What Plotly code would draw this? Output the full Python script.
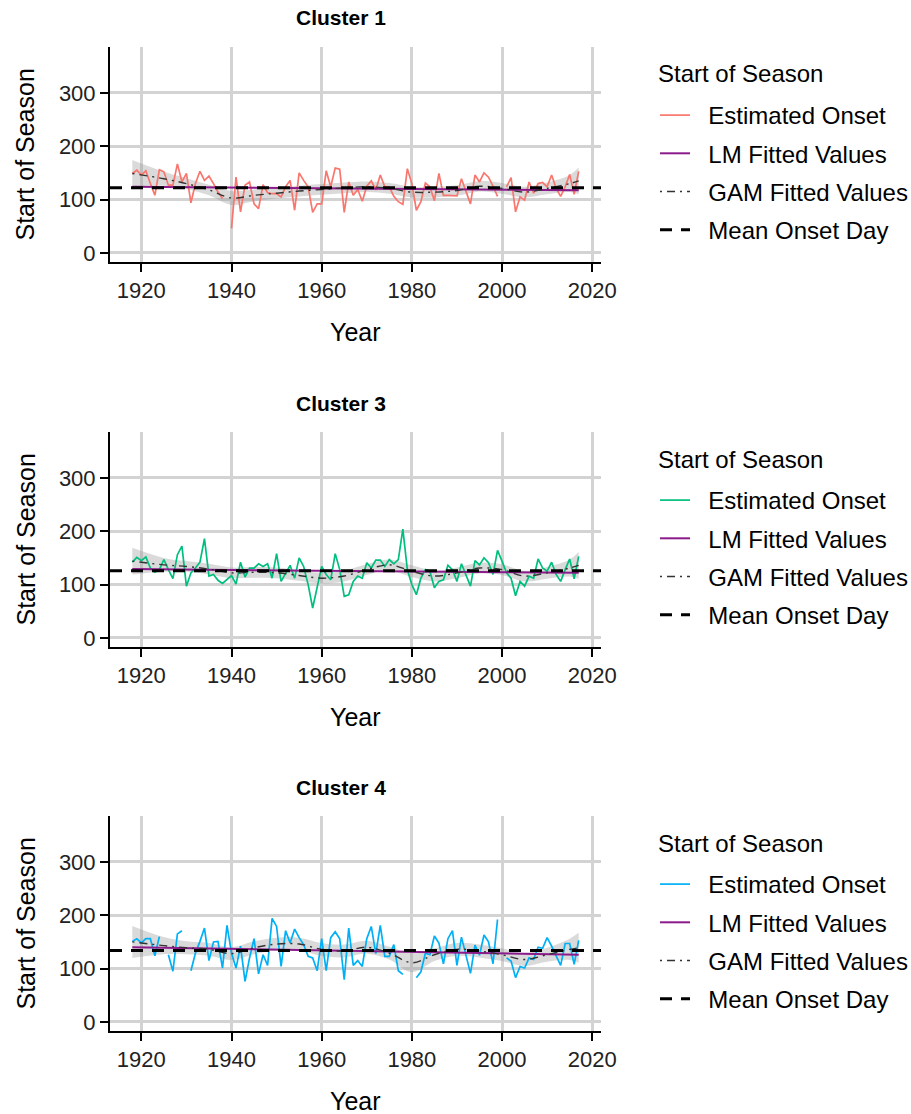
import plotly.graph_objects as go
import numpy as np

nan = float("nan")
years = list(range(1918, 2018))

onset_c1 = [149,155,146,154,130,108,156,152,127,127,167,133,149,94,130,153,136,144,130,114,102,nan,
            46,142,77,127,133,92,83,128,113,111,111,105,124,136,80,150,136,124,76,92,92,154,124,159,157,76,
            133,108,119,97,125,135,118,146,124,124,106,96,91,158,130,80,96,131,124,98,149,108,108,107,107,139,
            114,92,146,133,150,142,125,106,nan,124,141,77,105,99,133,112,130,132,124,146,121,106,124,147,110,153]
onset_c3 = [142,151,145,152,131,123,128,147,128,111,156,172,97,122,131,142,186,116,119,108,102,109,117,
            101,142,114,131,131,139,134,139,112,158,106,122,136,112,150,134,100,56,97,134,119,109,158,128,78,
            81,106,116,112,141,131,146,146,134,147,139,147,204,128,100,81,112,128,125,94,106,109,136,128,106,
            139,119,97,145,137,150,141,119,164,144,122,112,79,106,97,116,112,148,131,125,142,119,106,128,148,111,153]
onset_c4 = [151,156,148,156,156,124,160,nan,126,95,165,171,nan,96,129,151,176,115,150,151,101,181,129,
            101,142,76,120,156,90,126,106,194,179,104,171,148,174,158,145,123,120,96,156,96,158,169,156,79,
            176,106,115,104,156,179,128,181,123,123,145,96,89,nan,nan,83,94,129,126,161,148,109,156,171,106,
            159,126,91,144,125,163,150,109,192,nan,120,114,83,104,101,120,117,140,138,158,142,123,106,147,147,108,153]

gam_years = [1918,1925,1930,1935,1940,1945,1950,1955,1960,1965,1970,1975,1980,1985,1990,1995,2000,2005,2010,2015,2017]
gam_c1 = [149,139,130,118,103,108,112,116,119,122,124,121,114,114,117,125,121,114,121,130,135]
se_c1 = [25,13,10,10,13,11,10,10,10,10,10,10,10,10,10,10,10,10,11,16,25]
gam_c3 = [144,137,134,129,122,123,122,117,112,116,128,137,125,116,122,131,128,116,122,131,136]
se_c3 = [25,13,10,10,10,10,10,10,10,10,10,10,11,10,10,10,10,10,11,16,25]
gam_c4 = [150,143,139,136,128,139,146,146,136,133,140,129,111,126,136,133,126,117,126,136,139]
se_c4 = [30,16,12,12,12,12,12,12,12,12,12,12,18,12,12,12,12,12,13,20,28]

lm_c1 = [124, 117.5]
lm_c3 = [129, 122]
lm_c4 = [140, 126]
mean_c1, mean_c3, mean_c4 = 122, 126, 134

titles = ["Cluster 1", "Cluster 3", "Cluster 4"]
colors = ["#F8766D", "#00BF7D", "#00B0F6"]
x_ticks = [1920, 1940, 1960, 1980, 2000, 2020]
y_ticks = [0, 100, 200, 300]
legend_title = "Start of Season"
names = ["Estimated Onset", "LM Fitted Values", "GAM Fitted Values", "Mean Onset Day"]

W, H = 911, 1114
FONT = "Liberation Sans, Arial, sans-serif"
PAD = "\u00a0\u00a0"

def px_x(p):
    return p / W

def px_y(p):
    return 1 - p / H

panels = [
    (onset_c1, gam_c1, se_c1, lm_c1, mean_c1),
    (onset_c3, gam_c3, se_c3, lm_c3, mean_c3),
    (onset_c4, gam_c4, se_c4, lm_c4, mean_c4),
]
tops = [47, 432, 816]
ph = 215
xl, xr = 110, 601

yrange_span = max(years) - min(years)
xr0 = min(years) - 0.05 * yrange_span
xr1 = max(years) + 0.05 * yrange_span

fig = go.Figure()
annotations = []
for i, (onset, gam, se, lm, mean) in enumerate(panels):
    k = "" if i == 0 else str(i + 1)
    xa, ya = "x" + k, "y" + k
    lg = "legend" + k
    gam = np.array(gam, float)
    se = np.array(se, float)
    # ribbon
    fig.add_trace(go.Scatter(x=gam_years, y=gam + se, mode="lines", line=dict(width=0, shape="spline"),
                             xaxis=xa, yaxis=ya, showlegend=False, hoverinfo="skip"))
    fig.add_trace(go.Scatter(x=gam_years, y=gam - se, mode="lines", line=dict(width=0, shape="spline"),
                             fill="tonexty", fillcolor="rgba(150,150,150,0.35)",
                             xaxis=xa, yaxis=ya, showlegend=False, hoverinfo="skip"))
    fig.add_trace(go.Scatter(x=years, y=onset, mode="lines", name=PAD + names[0], legendgroup="a",
                             line=dict(color=colors[i], width=1.7), xaxis=xa, yaxis=ya, legend=lg))
    fig.add_trace(go.Scatter(x=[years[0], years[-1]], y=lm, mode="lines", name=PAD + names[1],
                             legendgroup="b",
                             line=dict(color="#8B1A8B", width=2), xaxis=xa, yaxis=ya, legend=lg))
    fig.add_trace(go.Scatter(x=gam_years, y=gam, mode="lines", name=PAD + names[2], legendgroup="c",
                             line=dict(color="#333333", width=1.4, dash="2px,5px,8px,5px", shape="spline"),
                             xaxis=xa, yaxis=ya, legend=lg))
    fig.add_trace(go.Scatter(x=[xr0, xr1], y=[mean, mean], mode="lines", name=PAD + names[3],
                             legendgroup="d",
                             line=dict(color="black", width=3, dash="12px,9px"),
                             xaxis=xa, yaxis=ya, legend=lg))

    top = tops[i]
    bot = top + ph
    axis_common = dict(showline=True, linecolor="black", linewidth=2, ticks="outside", ticklen=8,
                       tickwidth=2, tickcolor="black", showgrid=True, gridcolor="#d3d3d3", gridwidth=3,
                       zeroline=False, tickfont=dict(family=FONT, size=22, color="#222222"))
    fig.update_layout(**{
        "xaxis" + k: dict(domain=[px_x(xl), px_x(xr)], range=[xr0, xr1], anchor=ya,
                          tickvals=x_ticks, **axis_common),
        "yaxis" + k: dict(domain=[px_y(bot), px_y(top)], range=[-17, 386], anchor=xa,
                          tickvals=y_ticks, **axis_common),
        lg: dict(x=px_x(655), y=px_y(top + 46), xanchor="left", yanchor="top",
                 font=dict(family=FONT, size=24, color="black"), bgcolor="rgba(0,0,0,0)",
                 itemwidth=30, tracegroupgap=4, traceorder="grouped"),
    })
    annotations.append(dict(text="<b>" + titles[i] + "</b>", x=px_x(341), y=px_y(top - 29),
                            xref="paper", yref="paper", showarrow=False,
                            font=dict(family=FONT, size=21, color="black"), xanchor="center", yanchor="middle"))
    annotations.append(dict(text="Year", x=px_x(355), y=px_y(bot + 70), xref="paper", yref="paper",
                            showarrow=False, font=dict(family=FONT, size=25, color="black"),
                            xanchor="center", yanchor="middle"))
    annotations.append(dict(text="Start of Season", x=px_x(25), y=px_y(top + ph / 2), xref="paper",
                            yref="paper", showarrow=False, textangle=-90,
                            font=dict(family=FONT, size=25, color="black"),
                            xanchor="center", yanchor="middle"))
    annotations.append(dict(text=legend_title, x=px_x(656), y=px_y(top + 27), xref="paper", yref="paper",
                            showarrow=False, font=dict(family=FONT, size=24, color="black"),
                            xanchor="left", yanchor="middle"))

fig.update_layout(width=W, height=H, margin=dict(l=0, r=0, t=0, b=0, autoexpand=False),
                  plot_bgcolor="white", paper_bgcolor="white", annotations=annotations,
                  font=dict(family=FONT))
fig.write_html("out.html")
